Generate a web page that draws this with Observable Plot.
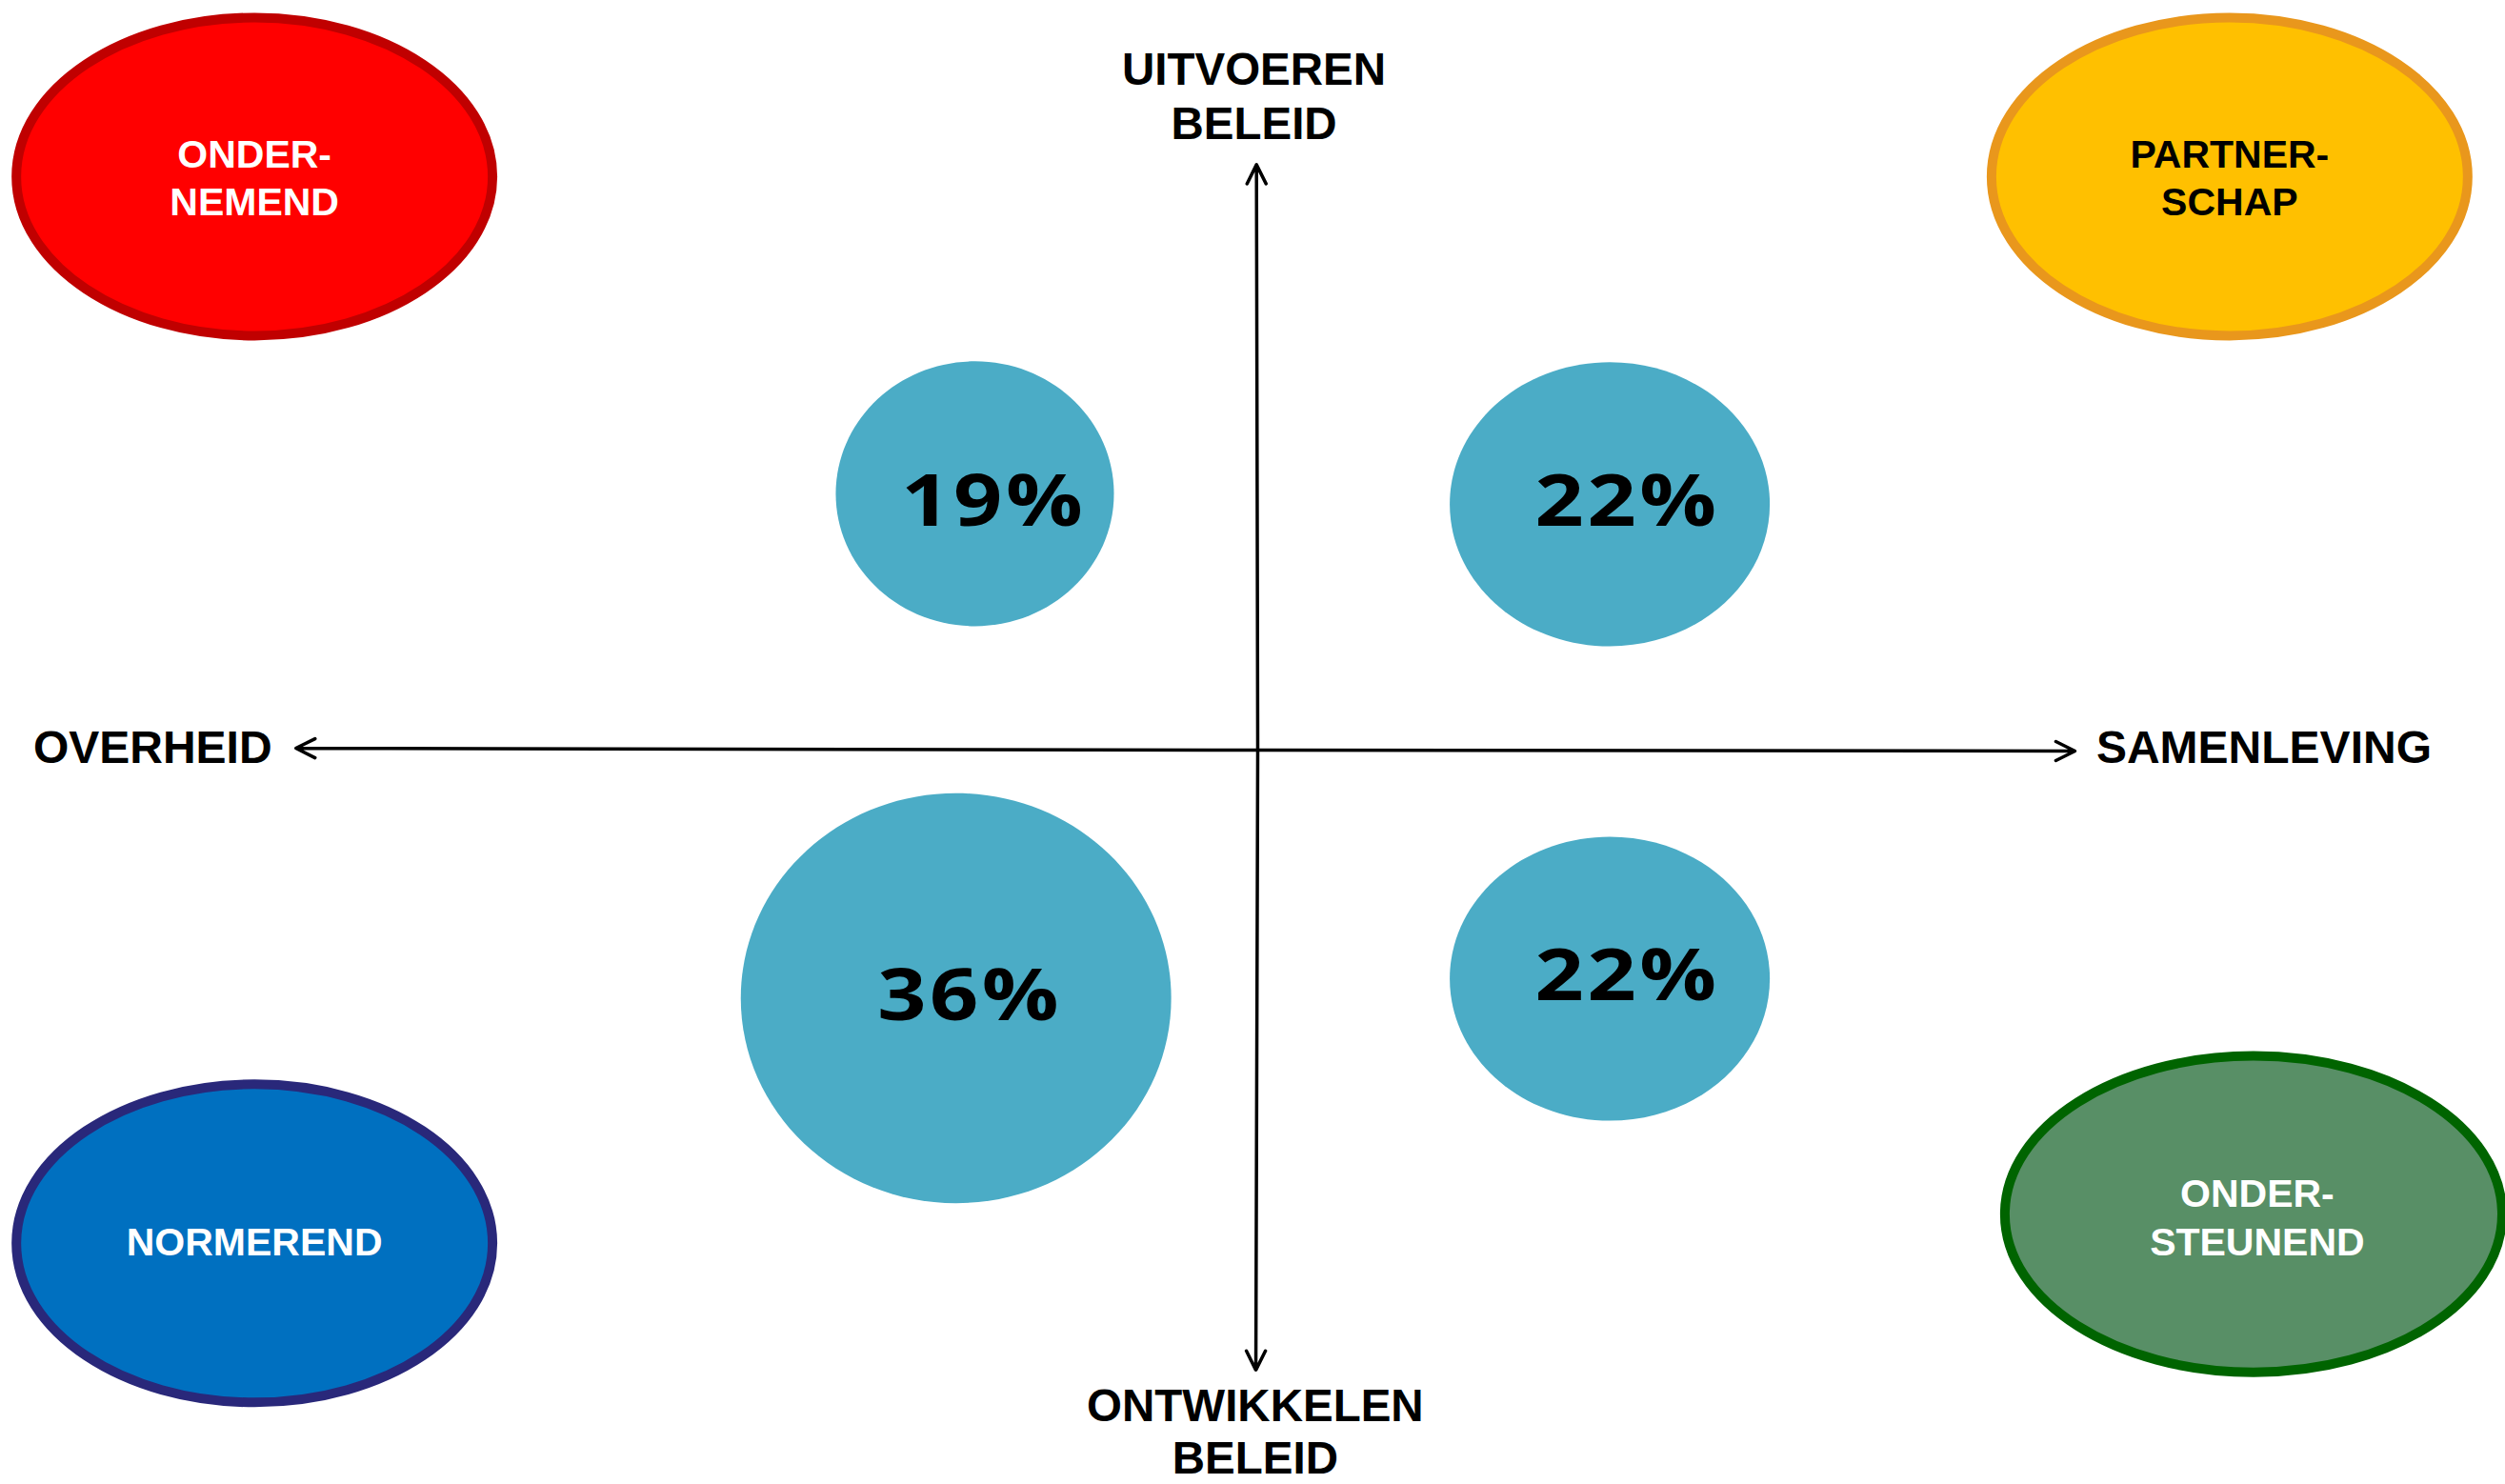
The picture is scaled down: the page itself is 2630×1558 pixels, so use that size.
<!DOCTYPE html>
<html>
<head>
<meta charset="utf-8">
<script src="https://cdn.jsdelivr.net/npm/d3@7"></script>
<script src="https://cdn.jsdelivr.net/npm/@observablehq/plot@0.6"></script>
<style>
  html, body { margin: 0; padding: 0; background: #ffffff; overflow: hidden; }
</style>
</head>
<body>
<div id="chart"></div>
<script>
// ---------- data ----------
const styles = ["ONDERNEMEND", "PARTNERSCHAP", "NORMEREND", "ONDERSTEUNEND"];
const styleLabels = ["ONDER-\nNEMEND", "PARTNER-\nSCHAP", "NORMEREND", "ONDER-\nSTEUNEND"];
const quadrants = ["overheid-uitvoeren", "samenleving-uitvoeren", "overheid-ontwikkelen", "samenleving-ontwikkelen"];
const shares = [19, 22, 36, 22];
const shareLabels = ["19%", "22%", "36%", "22%"];
const axisEnds = ["links", "rechts", "boven", "onder"];
const axisNames = ["OVERHEID", "SAMENLEVING", "UITVOEREN\nBELEID", "ONTWIKKELEN\nBELEID"];

// ---------- layout (axis units: x -100..100, y -100..100, origin = axis crossing) ----------
const ovalPos = {
  ONDERNEMEND:   [-79.8, 76.5],
  PARTNERSCHAP:  [77.3, 76.5],
  NORMEREND:     [-79.8, -65.8],
  ONDERSTEUNEND: [79.2, -61.9]
};
const ovalTextPos = {
  ONDERNEMEND:   [-79.8, 76.6],
  PARTNERSCHAP:  [77.3, 76.6],
  NORMEREND:     [-79.8, -65.3],
  ONDERSTEUNEND: [79.5, -62.1]
};
const ovalFill = {ONDERNEMEND: "#FF0000", PARTNERSCHAP: "#FFC000", NORMEREND: "#0070C0", ONDERSTEUNEND: "#588F66"};
const ovalStroke = {ONDERNEMEND: "#C00000", PARTNERSCHAP: "#E9971C", NORMEREND: "#29287A", ONDERSTEUNEND: "#006400"};
const ovalText = {ONDERNEMEND: "#FFFFFF", PARTNERSCHAP: "#000000", NORMEREND: "#FFFFFF", ONDERSTEUNEND: "#FFFFFF"};

const bubblePos = {
  "overheid-uitvoeren":      [-22.5, 34.2],
  "samenleving-uitvoeren":   [28.0, 32.8],
  "overheid-ontwikkelen":    [-24.0, -33.1],
  "samenleving-ontwikkelen": [28.0, -30.5]
};
const bubbleTextPos = {
  "overheid-uitvoeren":      [-21.0, 33.0],
  "samenleving-uitvoeren":   [29.4, 33.0],
  "overheid-ontwikkelen":    [-22.9, -32.9],
  "samenleving-ontwikkelen": [29.4, -30.3]
};
const arrowTip = {links: [-76.5, 0.25], rechts: [65.0, -0.13], boven: [-0.1, 78.1], onder: [-0.15, -82.7]};
const axisLabelPos = {links: [-78.4, 0.3], rechts: [66.7, 0.3], boven: [-0.3, 87.4], onder: [-0.2, -90.8]};

// ---------- helpers ----------
function ellipseSymbol(aspect) {
  const s = Math.sqrt(aspect);
  return {
    draw(ctx, size) {
      const r = Math.sqrt(size / Math.PI);
      const rx = r * s, ry = r / s, k = 0.5522847498;
      ctx.moveTo(rx, 0);
      ctx.bezierCurveTo(rx, k * ry, k * rx, ry, 0, ry);
      ctx.bezierCurveTo(-k * rx, ry, -rx, k * ry, -rx, 0);
      ctx.bezierCurveTo(-rx, -k * ry, -k * rx, -ry, 0, -ry);
      ctx.bezierCurveTo(k * rx, -ry, rx, -k * ry, rx, 0);
      ctx.closePath();
    }
  };
}

const ovals = styles.map((s, i) => ({style: s, label: styleLabels[i]}));
const bubbles = quadrants.map((q, i) => ({quadrant: q, share: shares[i], label: shareLabels[i]}));
const axes = axisEnds.map((e, i) => ({end: e, label: axisNames[i]}));

const boldSans = "'Liberation Sans', Arial, Helvetica, sans-serif";
const axisText = (end, extra) => Plot.text(axes.filter(d => d.end === end), {
  x: d => axisLabelPos[d.end][0], y: d => axisLabelPos[d.end][1],
  text: "label", fill: "#000000", fontFamily: boldSans, fontWeight: "bold",
  lineAnchor: "middle", ...extra
});

const chart = Plot.plot({
  width: 2630,
  height: 1558,
  margin: 0,
  x: {domain: [-100, 100], range: [0, 2640], axis: null},
  y: {domain: [-100, 100], range: [1574, 0], axis: null},
  r: {type: "sqrt", domain: [19, 36], range: [142.5, 220.5]},
  style: {background: "#ffffff", overflow: "visible"},
  marks: [
    // corner ovals
    Plot.dot(ovals, {
      filter: d => d.style !== "ONDERSTEUNEND",
      x: d => ovalPos[d.style][0], y: d => ovalPos[d.style][1],
      r: 204.3, symbol: ellipseSymbol(1.497),
      fill: d => ovalFill[d.style], stroke: d => ovalStroke[d.style], strokeWidth: 10
    }),
    Plot.dot(ovals, {
      filter: d => d.style === "ONDERSTEUNEND",
      x: d => ovalPos[d.style][0], y: d => ovalPos[d.style][1],
      r: 208.2, symbol: ellipseSymbol(1.572),
      fill: d => ovalFill[d.style], stroke: d => ovalStroke[d.style], strokeWidth: 10
    }),
    Plot.text(ovals, {
      x: d => ovalTextPos[d.style][0], y: d => ovalTextPos[d.style][1],
      text: "label", fill: d => ovalText[d.style],
      fontFamily: boldSans, fontWeight: "bold", fontSize: 41, lineHeight: 1.23,
      lineAnchor: "middle", textAnchor: "middle"
    }),
    // share bubbles
    Plot.dot(bubbles, {
      filter: d => d.share === 22,
      x: d => bubblePos[d.quadrant][0], y: d => bubblePos[d.quadrant][1],
      r: "share", symbol: ellipseSymbol(1.127), fill: "#4BACC6", stroke: "none"
    }),
    Plot.dot(bubbles, {
      filter: d => d.share !== 22,
      x: d => bubblePos[d.quadrant][0], y: d => bubblePos[d.quadrant][1],
      r: "share", symbol: ellipseSymbol(1.05), fill: "#4BACC6", stroke: "none"
    }),
    Plot.text(bubbles, {
      x: d => bubbleTextPos[d.quadrant][0], y: d => bubbleTextPos[d.quadrant][1],
      text: "label", fill: "#000000",
      fontFamily: "'Open Sans', sans-serif", fontWeight: 700, fontSize: 76,
      lineAnchor: "middle", textAnchor: "middle"
    }),
    // axes
    Plot.arrow(axes, {
      x1: 0, y1: 0,
      x2: d => arrowTip[d.end][0], y2: d => arrowTip[d.end][1],
      stroke: "#000000", strokeWidth: 3.5, headAngle: 53, headLength: 9.6
    }),
    axisText("links", {textAnchor: "end", fontSize: 48}),
    axisText("rechts", {textAnchor: "start", fontSize: 48}),
    axisText("boven", {textAnchor: "middle", fontSize: 47.5, lineHeight: 1.2}),
    axisText("onder", {textAnchor: "middle", fontSize: 47.5, lineHeight: 1.15})
  ]
});

// the percentage labels use a wide face: stretch the glyphs to the reference width
d3.select(chart).selectAll("text")
  .filter(function () { return /%$/.test(this.textContent); })
  .attr("textLength", 194)
  .attr("lengthAdjust", "spacingAndGlyphs")
  .attr("letter-spacing", "3px");

document.getElementById("chart").appendChild(chart);
</script>
</body>
</html>
